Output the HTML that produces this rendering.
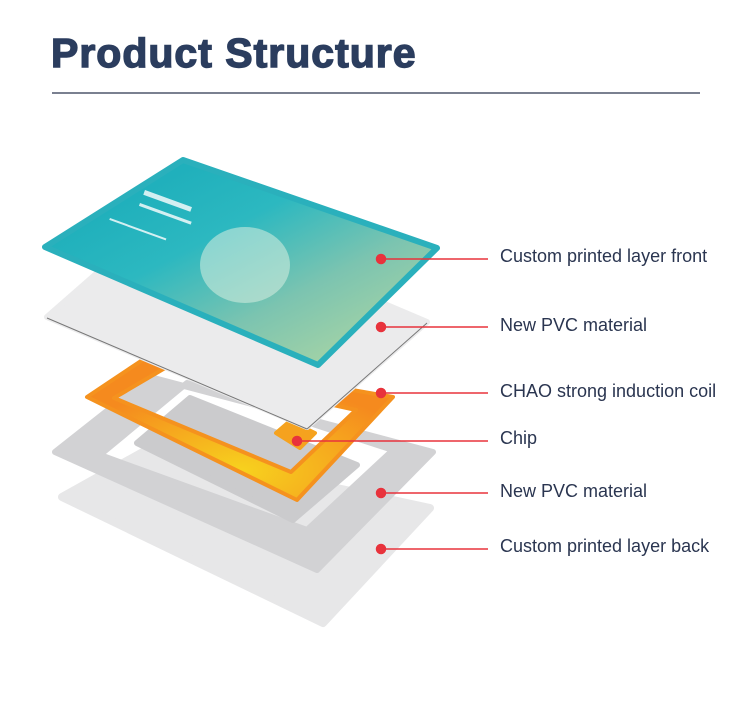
<!DOCTYPE html>
<html><head><meta charset="utf-8"><style>
html,body{margin:0;padding:0;background:#fff;}
body{width:750px;height:705px;overflow:hidden;position:relative;font-family:"Liberation Sans",sans-serif;}
.t{position:absolute;left:51px;top:30px;font-size:41px;font-weight:bold;color:#2b3d5e;letter-spacing:1px;-webkit-text-stroke:1.4px #2b3d5e;}
.hr{position:absolute;left:52px;top:92px;width:648px;height:2px;background:#7a8090;}
.l{position:absolute;left:500px;font-size:18px;color:#2a3550;white-space:nowrap;}
</style></head><body>
<div class="t">Product Structure</div>
<div class="hr"></div>
<svg width="750" height="705" style="position:absolute;left:0;top:0">
<defs>
<linearGradient id="tg" x1="0" y1="0" x2="1" y2="1">
<stop offset="0" stop-color="#14a8b8"/><stop offset="0.4" stop-color="#2cb8c0"/><stop offset="0.65" stop-color="#7cc4b0"/><stop offset="1" stop-color="#bcdca0"/></linearGradient>
<radialGradient id="og" cx="0.5" cy="0.8" r="0.6"><stop offset="0" stop-color="#f7d21e"/><stop offset="1" stop-color="#f58a1e"/></radialGradient>
</defs>
<g stroke-linejoin="round">
<polygon points="62,497 150,448 430,508 323,623" fill="#e7e7e8" stroke="#e7e7e8" stroke-width="8"/>
<path d="M55,452 L150,377 L433,452 L317,570 Z M100,455 L187,383 L393,450 L307,530 Z" fill="#d2d2d4" fill-rule="evenodd" stroke="#d2d2d4" stroke-width="6"/>
<polygon points="137,443 190,398 357,465 293,520" fill="#cbcbcd" stroke="#cbcbcd" stroke-width="6"/>
<path d="M87,397 L150,355 L393,397 L297,500 Z M114,398 L165,368 L356,410 L291,472 Z" fill="url(#og)" fill-rule="evenodd" stroke="#f5921e" stroke-width="4"/>
<polygon points="276,433 290,421 315,433 300,448" fill="#f5a21e" stroke="#f5a21e" stroke-width="4"/>
<polygon points="47,317 167,212 427,322 307,427" fill="#ebebec" stroke="#ebebec" stroke-width="6"/>
<line x1="47" y1="318" x2="307" y2="429" stroke="#777" stroke-width="1"/>
<line x1="307" y1="429" x2="427" y2="323" stroke="#777" stroke-width="1"/>
<polygon points="45,247 183,160 437,248 318,365" fill="url(#tg)" stroke="#2ab0bc" stroke-width="6"/>
<ellipse cx="245" cy="265" rx="45" ry="38" fill="#d8efe0" opacity="0.55"/>
<g stroke="none" fill="#fff" opacity="0.8">
<rect x="145" y="190" width="50" height="5" transform="rotate(20 145 190)"/>
<rect x="140" y="203" width="55" height="3" transform="rotate(20 140 203)"/>
<rect x="110" y="218" width="60" height="2" transform="rotate(20 110 218)"/>
</g>
</g>
<g fill="#e8333c" stroke="#e8333c" stroke-width="1.5">
<line x1="381" y1="259" x2="488" y2="259"/><circle cx="381" cy="259" r="4.5"/>
<line x1="381" y1="327" x2="488" y2="327"/><circle cx="381" cy="327" r="4.5"/>
<line x1="381" y1="393" x2="488" y2="393"/><circle cx="381" cy="393" r="4.5"/>
<line x1="297" y1="441" x2="488" y2="441"/><circle cx="297" cy="441" r="4.5"/>
<line x1="381" y1="493" x2="488" y2="493"/><circle cx="381" cy="493" r="4.5"/>
<line x1="381" y1="549" x2="488" y2="549"/><circle cx="381" cy="549" r="4.5"/>
</g>
</svg>
<div class="l" style="top:246px">Custom printed layer front</div>
<div class="l" style="top:315px">New PVC material</div>
<div class="l" style="top:381px">CHAO strong induction coil</div>
<div class="l" style="top:428px">Chip</div>
<div class="l" style="top:481px">New PVC material</div>
<div class="l" style="top:536px">Custom printed layer back</div>
</body></html>
